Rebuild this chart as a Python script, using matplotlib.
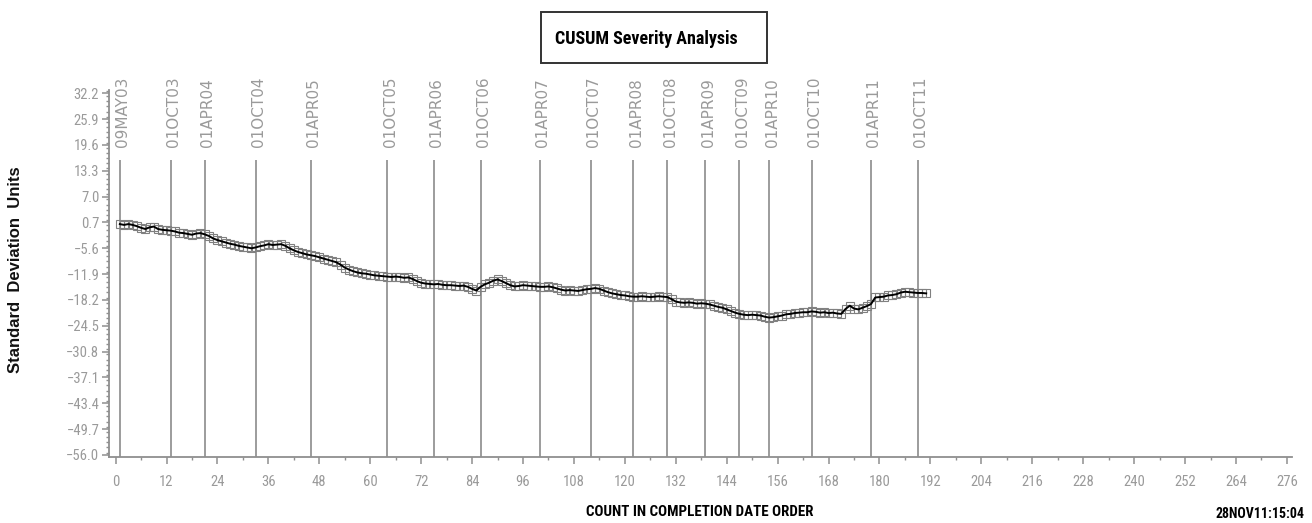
import matplotlib
matplotlib.use("Agg")
import matplotlib.pyplot as plt
from matplotlib import font_manager as fm
from matplotlib.patches import Rectangle
from matplotlib.ticker import FixedLocator, MultipleLocator

# pick a condensed/narrow font if one is installed
COND_FAMILY, COND_STRETCH = None, 'normal'
_pref = ['Liberation Sans Narrow', 'Roboto Condensed', 'DejaVu Sans', 'Noto Sans',
         'Open Sans', 'Liberation Sans', 'Roboto', 'Lato', 'Inter']
_found = {}
for f in fm.fontManager.ttflist:
    if 'Narrow' in f.name or f.stretch in ('condensed', 'semi-condensed', 'extra-condensed'):
        _found.setdefault(f.name, f.stretch)
for n in _pref:
    if n in _found:
        COND_FAMILY, COND_STRETCH = n, _found[n]
        break
if COND_FAMILY is None and _found:
    COND_FAMILY, COND_STRETCH = next(iter(_found.items()))
HAVE_COND = COND_FAMILY is not None
if not HAVE_COND:
    COND_FAMILY = 'Liberation Sans'

# ---------------- data ----------------
counts = list(range(1, 192))
cusum = [
    0.3, 0.1, 0.3, 0.1, -0.2, -0.6, -0.9, -0.5, -0.3, -0.9,
    -1.1, -1.2, -1.3, -1.5, -1.8, -1.9, -2.1, -2.3, -2.0, -1.9,
    -2.2, -2.6, -3.2, -3.6, -3.9, -4.2, -4.5, -4.7, -5.0, -5.2,
    -5.4, -5.6, -5.4, -5.1, -4.9, -4.6, -4.8, -4.7, -4.6, -5.0,
    -5.6, -6.1, -6.5, -6.8, -7.1, -7.3, -7.5, -7.8, -8.1, -8.4,
    -8.7, -9.0, -9.6, -10.3, -10.8, -11.2, -11.5, -11.7, -11.8, -12.0,
    -12.2, -12.3, -12.4, -12.5, -12.6, -12.5, -12.6, -12.8, -12.7, -13.1,
    -13.6, -14.0, -14.2, -14.3, -14.4, -14.3, -14.5, -14.6, -14.6, -14.7,
    -14.8, -14.7, -15.0, -15.5, -15.9, -15.0, -14.4, -14.0, -13.5, -13.2,
    -13.6, -14.1, -14.6, -14.9, -14.8, -14.6, -14.7, -14.8, -14.9, -15.0,
    -15.0, -14.9, -15.1, -15.4, -15.7, -15.9, -15.8, -15.9, -16.0, -15.8,
    -15.6, -15.5, -15.3, -15.5, -15.9, -16.3, -16.6, -16.8, -17.0, -17.1,
    -17.3, -17.4, -17.4, -17.3, -17.4, -17.5, -17.4, -17.3, -17.4, -17.5,
    -18.0, -18.6, -18.8, -18.9, -18.8, -18.9, -19.1, -19.0, -19.1, -19.3,
    -19.6, -19.9, -20.1, -20.5, -20.9, -21.3, -21.6, -21.8, -21.9, -21.8,
    -21.9, -22.0, -22.3, -22.5, -22.4, -22.2, -22.0, -21.7, -21.6, -21.4,
    -21.3, -21.2, -21.2, -21.0, -21.1, -21.3, -21.2, -21.4, -21.3, -21.5,
    -21.6, -20.4, -19.6, -20.3, -20.5, -20.1, -19.7, -19.2, -17.6, -17.5,
    -17.4, -17.1, -17.0, -16.8, -16.4, -16.2, -16.3, -16.4, -16.5, -16.5,
    -16.6,
]

date_labels = ['09MAY03', '01OCT03', '01APR04', '01OCT04', '01APR05', '01OCT05',
               '01APR06', '01OCT06', '01APR07', '01OCT07', '01APR08', '01OCT08',
               '01APR09', '01OCT09', '01APR10', '01OCT10', '01APR11', '01OCT11']
date_counts = [1, 13, 21, 33, 46, 64, 75, 86, 100, 112, 122, 130, 139, 147, 154, 164, 178, 189]

ytick_values = [32.2, 25.9, 19.6, 13.3, 7.0, 0.7, -5.6, -11.9, -18.2, -24.5,
                -30.8, -37.1, -43.4, -49.7, -56.0]
ytick_labels = ['32.2', '25.9', '19.6', '13.3', '7.0', '0.7', '\u22125.6', '\u221211.9',
                '\u221218.2', '\u221224.5', '\u221230.8', '\u221237.1', '\u221243.4',
                '\u221249.7', '\u221256.0']
xtick_values = list(range(0, 277, 12))

title = 'CUSUM Severity Analysis'
ylabel = 'Standard  Deviation  Units'
xlabel = 'COUNT IN COMPLETION DATE ORDER'
stamp = '28NOV11:15:04'

# ---------------- figure ----------------
W, H = 1312, 523
fig = plt.figure(figsize=(W / 100, H / 100), dpi=100)
fig.patch.set_facecolor('white')

def fx(px):
    return px / W

def fy(py):
    return 1 - py / H

ax = fig.add_axes([fx(109), fy(457), fx(1292) - fx(109), fy(90) - fy(457)])
ax.set_xlim(-1.55, 277.2)
ax.set_ylim(-56.5, 33.0)

GRAY = '#8f8f8f'
TXTGRAY = '#9a9a9a'
for s in ['top', 'right']:
    ax.spines[s].set_visible(False)
for s in ['left', 'bottom']:
    ax.spines[s].set_color(GRAY)
    ax.spines[s].set_linewidth(1.3)

# reference lines with date labels
line_top = 15.9
ax.vlines(date_counts, -56.5, line_top, colors='#9c9c9c', linewidth=1.4, zorder=1)
for c, lab in zip(date_counts, date_labels):
    ax.text(c + 0.7, 19.0, lab, rotation=90, ha='center', va='bottom',
            fontsize=11, color=TXTGRAY, family='DejaVu Sans', zorder=2)

# data
ax.plot(counts, cusum, color='black', linewidth=1.4, zorder=4)
ax.plot(counts, cusum, linestyle='none', marker='s', markersize=5.5,
        markerfacecolor='none', markeredgecolor='#808080', markeredgewidth=0.8, zorder=3)

# ticks
ax.yaxis.set_major_locator(FixedLocator(ytick_values))
ax.set_yticklabels(ytick_labels)
ax.yaxis.set_minor_locator(MultipleLocator(6.3 / 5))
ax.xaxis.set_major_locator(FixedLocator(xtick_values))
ax.xaxis.set_minor_locator(MultipleLocator(6))
ax.tick_params(axis='both', which='major', direction='out', length=5, width=1.1,
               color=GRAY, labelcolor=TXTGRAY, labelsize=10.5)
ax.tick_params(axis='both', which='minor', direction='out', length=2.5, width=1.0, color=GRAY)
ax.tick_params(axis='x', which='major', pad=8)
ax.tick_params(axis='y', which='major', pad=2)
for t in ax.get_xticklabels() + ax.get_yticklabels():
    t.set_family(COND_FAMILY)
    t.set_stretch(COND_STRETCH)

# title box
fig.patches.append(Rectangle((fx(541), fy(63)), fx(767) - fx(541), fy(12) - fy(63),
                             transform=fig.transFigure, fill=False,
                             edgecolor='#333333', linewidth=1.4))
fig.text(fx(646), fy(39), title, ha='center', va='center',
         fontsize=13 if HAVE_COND else 11, fontweight='bold',
         family=COND_FAMILY, stretch=COND_STRETCH, color='black')

# axis labels
fig.text(fx(16), fy(270), ylabel, rotation=90, ha='center', va='center',
         fontsize=12, fontweight='bold', family='Liberation Sans', color='#111111')
fig.text(fx(700), fy(512), xlabel, ha='center', va='center',
         fontsize=10.8 if HAVE_COND else 8.5, fontweight='bold',
         family=COND_FAMILY, stretch=COND_STRETCH, color='black')
fig.text(fx(1305), fy(514), stamp, ha='right', va='center',
         fontsize=10 if HAVE_COND else 8.5, fontweight='bold',
         family=COND_FAMILY, stretch=COND_STRETCH, color='black')

fig.savefig('out.png', dpi=100, facecolor='white')
